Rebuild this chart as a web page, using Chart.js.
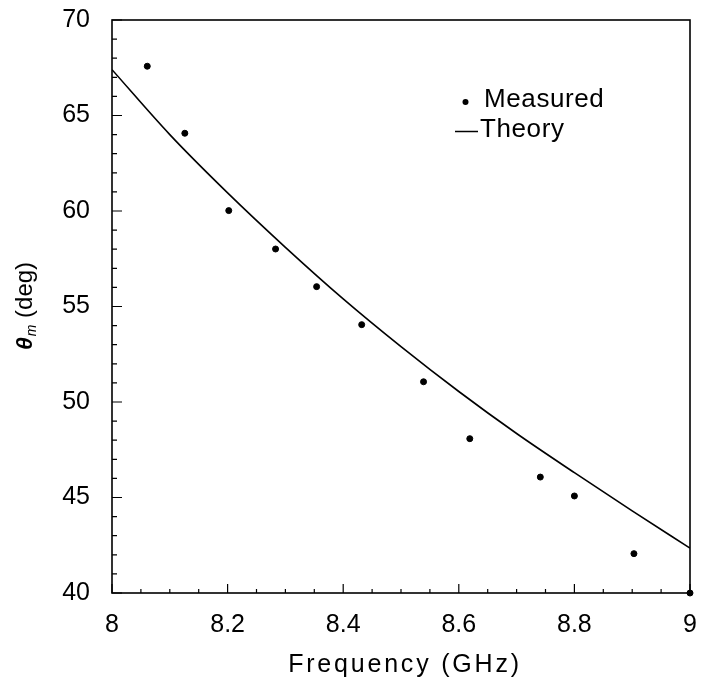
<!DOCTYPE html>
<html>
<head>
<meta charset="utf-8">
<script src="https://cdn.jsdelivr.net/npm/chart.js@4.4.1/dist/chart.umd.min.js"></script>
<style>
  html, body { margin: 0; padding: 0; background: #fff; }
  #wrap { width: 701px; height: 696px; }
</style>
</head>
<body>
<div id="wrap"><canvas id="myChart" width="701" height="696"></canvas></div>
<script>
// measured points
const measuredFreq = [8.061, 8.126, 8.202, 8.283, 8.354, 8.432, 8.539, 8.619, 8.741, 8.800, 8.903, 9.0];
const measuredTheta = [67.58, 64.07, 60.02, 58.01, 56.04, 54.05, 51.06, 48.08, 46.07, 45.08, 42.06, 40.0];

// theory curve
const theoryFreq = [8.0, 8.1, 8.2, 8.3, 8.4, 8.5, 8.6, 8.7, 8.8, 8.9, 9.0];
const theoryTheta = [67.4, 64.0, 60.95, 58.1, 55.4, 52.9, 50.55, 48.35, 46.3, 44.3, 42.35];

const xTicks = [8, 8.2, 8.4, 8.6, 8.8, 9];
const yTicks = [40, 45, 50, 55, 60, 65, 70];

const FONT = "'Liberation Sans', Arial, Helvetica, sans-serif";

// frame, inward ticks, legend and axis titles
const decor = {
    id: 'decor',
    afterDraw(chart) {
        const ctx = chart.ctx;
        const a = chart.chartArea;
        const xs = chart.scales.x;
        const ys = chart.scales.y;
        ctx.save();
        ctx.strokeStyle = '#000';
        ctx.lineWidth = 1.6;
        ctx.strokeRect(a.left, a.top, a.right - a.left, a.bottom - a.top);

        ctx.lineWidth = 1.2;
        ctx.beginPath();
        for (let v = 40; v <= 70; v += 1) {
            const y = ys.getPixelForValue(v);
            const len = v % 5 === 0 ? 10 : 5;
            ctx.moveTo(a.left, y);
            ctx.lineTo(a.left + len, y);
        }
        for (let i = 0; i <= 20; i++) {
            const v = 8 + i * 0.05;
            const x = xs.getPixelForValue(v);
            const len = i % 4 === 0 ? 9 : 4;
            ctx.moveTo(x, a.bottom);
            ctx.lineTo(x, a.bottom - len);
        }
        ctx.stroke();

        // legend
        ctx.fillStyle = '#000';
        ctx.beginPath();
        ctx.arc(465.5, 102, 3, 0, Math.PI * 2);
        ctx.fill();
        ctx.lineWidth = 1.5;
        ctx.beginPath();
        ctx.moveTo(455, 131.5);
        ctx.lineTo(478, 131.5);
        ctx.stroke();
        ctx.font = '26px ' + FONT;
        ctx.textBaseline = 'alphabetic';
        ctx.textAlign = 'left';
        ctx.letterSpacing = '0.6px';
        ctx.fillText('Measured', 484, 107);
        ctx.fillText('Theory', 480, 137);

        // x title
        ctx.textAlign = 'center';
        ctx.font = '25px ' + FONT;
        ctx.letterSpacing = '2.8px';
        ctx.fillText('Frequency (GHz)', (a.left + a.right) / 2 + 4, 672);
        ctx.letterSpacing = '0px';

        // y title with subscript
        ctx.translate(32, (a.top + a.bottom) / 2);
        ctx.rotate(-Math.PI / 2);
        const p1 = 'θ', p2 = 'm', p3 = ' (deg)';
        ctx.font = 'italic bold 23px ' + FONT;
        const w1 = ctx.measureText(p1).width;
        ctx.font = 'italic 14px ' + FONT;
        const w2 = ctx.measureText(p2).width;
        ctx.font = '24px ' + FONT;
        const w3 = ctx.measureText(p3).width;
        let x0 = -(w1 + w2 + w3) / 2;
        ctx.textAlign = 'left';
        ctx.font = 'italic bold 23px ' + FONT;
        ctx.fillText(p1, x0, 0);
        ctx.font = 'italic 14px ' + FONT;
        ctx.fillText(p2, x0 + w1 + 1, 4);
        ctx.font = '24px ' + FONT;
        ctx.fillText(p3, x0 + w1 + w2 + 1, 0);
        ctx.restore();
    }
};

const ctx = document.getElementById('myChart').getContext('2d');
const myChart = new Chart(ctx, {
    type: 'scatter',
    data: {
        datasets: [{
            label: 'Measured',
            data: measuredFreq.map((f, i) => ({ x: f, y: measuredTheta[i] })),
            backgroundColor: '#000',
            borderColor: '#000',
            pointRadius: 3,
            pointHoverRadius: 3,
            showLine: false,
            clip: false
        }, {
            label: 'Theory',
            data: theoryFreq.map((f, i) => ({ x: f, y: theoryTheta[i] })),
            borderColor: '#000',
            borderWidth: 1.6,
            pointRadius: 0,
            showLine: true,
            fill: false,
            cubicInterpolationMode: 'monotone'
        }]
    },
    options: {
        responsive: false,
        animation: false,
        events: [],
        layout: { padding: { top: 20, right: 11, left: 0, bottom: 0 } },
        plugins: {
            legend: { display: false },
            tooltip: { enabled: false }
        },
        scales: {
            x: {
                type: 'linear',
                min: 8,
                max: 9,
                afterBuildTicks: (s) => { s.ticks = xTicks.map(v => ({ value: v })); },
                afterFit: (s) => { s.height = 103; s.paddingLeft = 0; s.paddingRight = 0; },
                grid: { display: false, drawTicks: false },
                border: { display: false },
                ticks: {
                    color: '#000',
                    padding: 17,
                    maxRotation: 0,
                    callback: (v) => String(v),
                    font: { family: FONT, size: 25 }
                }
            },
            y: {
                type: 'linear',
                min: 40,
                max: 70,
                afterBuildTicks: (s) => { s.ticks = yTicks.map(v => ({ value: v })); },
                afterFit: (s) => { s.width = 112; s.paddingTop = 0; s.paddingBottom = 0; },
                grid: { display: false, drawTicks: false },
                border: { display: false },
                ticks: {
                    color: '#000',
                    padding: 22,
                    callback: (v) => String(v),
                    font: { family: FONT, size: 25 }
                }
            }
        }
    },
    plugins: [decor]
});
</script>
</body>
</html>
